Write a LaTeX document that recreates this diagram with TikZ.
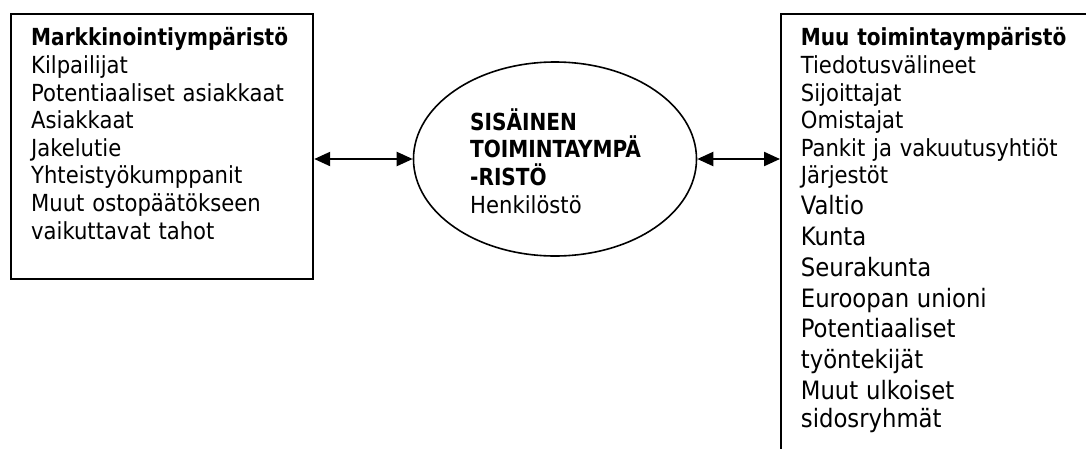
\documentclass[tikz,border=0pt]{standalone}
\usepackage{fontspec}
\setmainfont{DejaVu Sans Condensed}[BoldFeatures={FakeStretch=0.95}]
\usetikzlibrary{arrows.meta,shapes.geometric}
\newcommand{\smallsize}{\fontsize{23.5}{27.6}\selectfont}
\newcommand{\largesize}{\fontsize{25.3}{30.8}\selectfont}
\newcommand{\firstline}{\rule{0pt}{20pt}}
\begin{document}
\begin{tikzpicture}[x=1pt,y=-1pt,
  frame/.style={draw, line width=2.2pt, rectangle, inner sep=0pt},
  listtext/.style={anchor=north west, inner sep=0pt, text width=300pt, align=left, font=\smallsize},
  link/.style={line width=2.2pt, {Triangle[length=16pt,width=14pt]}-{Triangle[length=16pt,width=14pt]}}
]
\useasboundingbox (0,0) rectangle (1086,448);
\clip (0,0) rectangle (1086,448);

% left box: market environment
\node[frame, minimum width=302pt, minimum height=265pt, anchor=north west] (mkt) at (10,13) {};
\node[listtext] (mkttxt) at (31,25.7) {\firstline\textbf{Markkinointiympäristö}\par
  Kilpailijat\par
  Potentiaaliset asiakkaat\par
  Asiakkaat\par
  Jakelutie\par
  Yhteistyökumppanit\par
  Muut ostopäätökseen\par
  vaikuttavat tahot};

% centre: internal environment
\node[draw, ellipse, line width=1.6pt, minimum width=283pt, minimum height=194pt, inner sep=0pt] (sis) at (555,159) {};
\node[listtext, text width=200pt] (sistxt) at (470,108.3) {\firstline\textbf{SISÄINEN}\par
  \textbf{TOIMINTAYMPÄ}\par
  \textbf{-RISTÖ}\par
  Henkilöstö};

% right box: other environment (runs past the page edge)
\node[frame, minimum width=330pt, minimum height=460pt, anchor=north west] (muu) at (780,13) {};
\node[listtext] (muutxt) at (800.7,25.7) {\firstline\textbf{Muu toimintaympäristö}\par
  Tiedotusvälineet\par
  Sijoittajat\par
  Omistajat\par
  Pankit ja vakuutusyhtiöt\par
  Järjestöt\par
  \largesize Valtio\par
  Kunta\par
  Seurakunta\par
  Euroopan unioni\par
  Potentiaaliset\par
  työntekijät\par
  Muut ulkoiset\par
  sidosryhmät};

% connectors
\draw[link] (mkt.east |- sis.west) -- (sis.west);
\draw[link] (sis.east) -- (sis.east -| muu.west);
\end{tikzpicture}
\end{document}
